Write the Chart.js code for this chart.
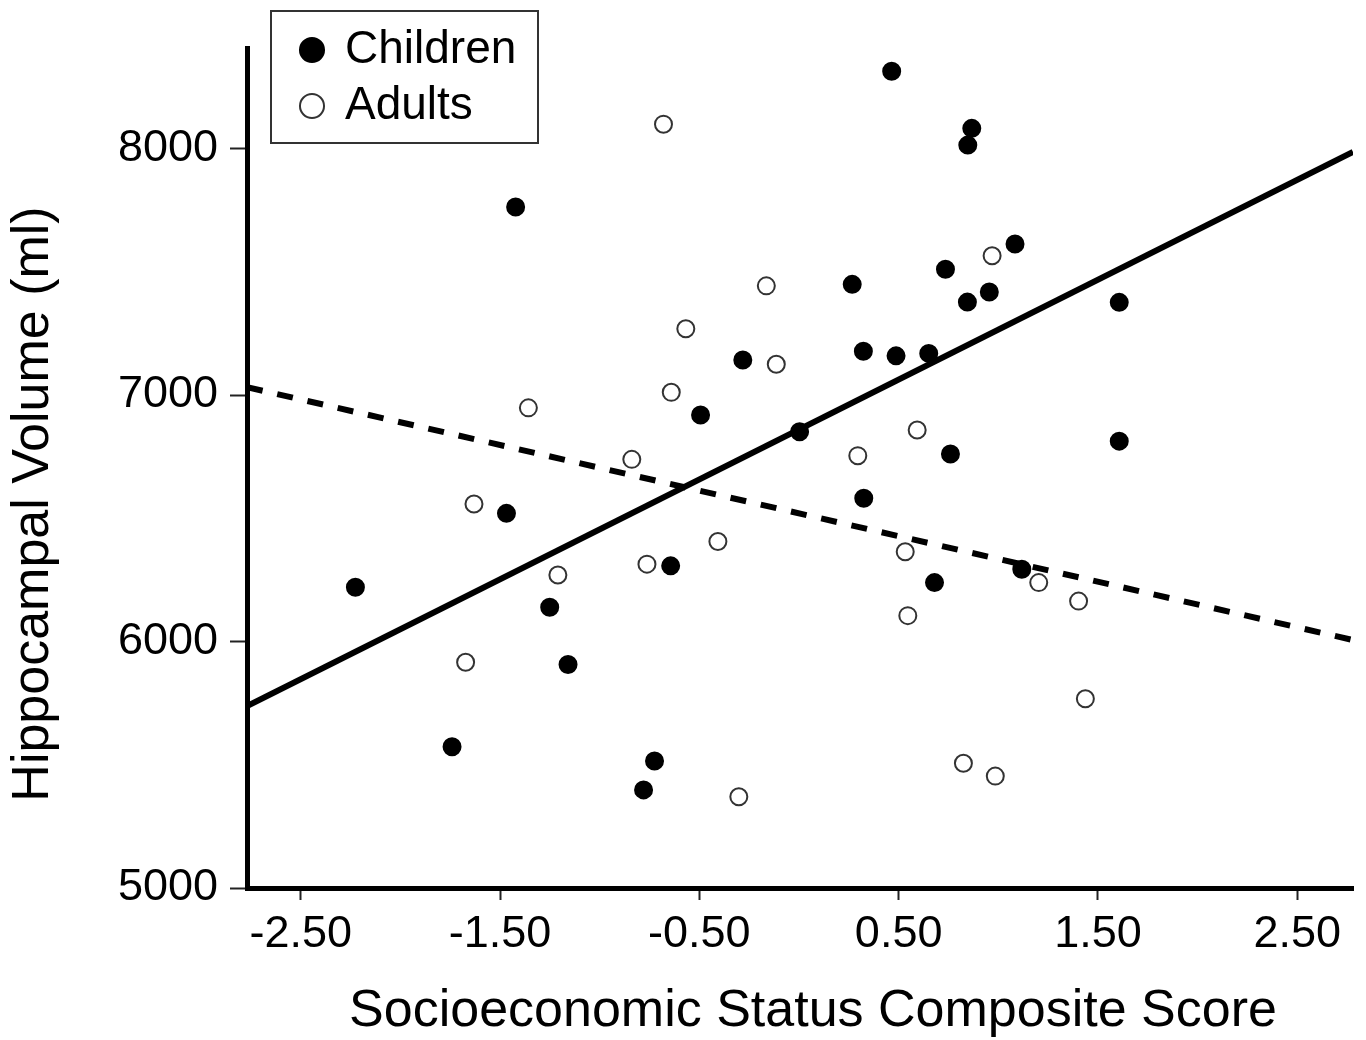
<!DOCTYPE html>
<html>
<head>
<meta charset="utf-8">
<title>Hippocampal Volume vs SES</title>
<script src="https://cdn.jsdelivr.net/npm/chart.js@4.4.1/dist/chart.umd.min.js"></script>
<style>
  html, body { margin: 0; padding: 0; background: #fff; }
  canvas { display: block; }
</style>
</head>
<body>
<canvas id="chart" width="1366" height="1040"></canvas>
<script>
// values
const childX = [0.465, 0.867, 0.847, -1.422, 1.084, 0.735, 0.267, 0.955, 0.845, 1.607,
  -0.282, 0.323, 0.487, 0.651, -0.494, 0.003, 1.607, 0.760, 0.325, -1.468,
  -2.226, -0.644, 0.680, 1.118, -1.251, -1.159, -1.741, -0.725, -0.780];
const childY = [8314, 8082, 8014, 7763, 7613, 7510, 7449, 7418, 7377, 7376,
  7142, 7178, 7159, 7169, 6919, 6851, 6813, 6761, 6581, 6520,
  6220, 6307, 6239, 6293, 6139, 5907, 5573, 5515, 5398];

const adultX = [-0.680, -0.164, -0.568, -0.114, -0.641, -1.358, 0.593, -0.839, 0.295, -1.631,
  -0.407, -1.210, -0.763, 0.533, 1.203, 1.403, 0.546, -1.673, 1.437, 0.825,
  0.985, -0.302, 0.969];
const adultY = [8099, 7443, 7269, 7125, 7011, 6948, 6858, 6739, 6754, 6558,
  6406, 6270, 6314, 6364, 6239, 6164, 6105, 5916, 5768, 5506,
  5454, 5370, 7565];

// regression lines (ends at the axis limits)
const fitX = [-2.77, 2.78];
const childFitY = [5738, 7986];
const adultFitY = [7032, 6006];

const xTicks = [-2.5, -1.5, -0.5, 0.5, 1.5, 2.5];
const yTicks = [5000, 6000, 7000, 8000];

const toPoints = (xs, ys) => xs.map((x, i) => ({ x, y: ys[i] }));

Chart.defaults.font.family = '"Liberation Sans", Arial, Helvetica, sans-serif';
Chart.defaults.color = '#000';

// legend sits inside the plot with a frame; axis titles nudged like the original
// (borders are drawn on a later layer, after the scale edges are put back)
const figureTweaks = {
  id: 'figureTweaks',
  afterLayout(chart) {
    const lg = chart.legend;
    lg.left = chart.chartArea.left + 45;
    lg.top = 17;
  },
  beforeDraw(chart) {
    chart.scales.y.top += 36; chart.scales.y.bottom += 36;
    chart.scales.x.left += 13; chart.scales.x.right += 13;
  },
  beforeDatasetsDraw(chart) {
    chart.scales.y.top -= 36; chart.scales.y.bottom -= 36;
    chart.scales.x.left -= 13; chart.scales.x.right -= 13;
  },
  afterDraw(chart) {
    const lg = chart.legend;
    const ctx = chart.ctx;
    ctx.save();
    ctx.strokeStyle = '#333';
    ctx.lineWidth = 2;
    ctx.strokeRect(lg.left - 21, lg.top - 6, 267, 132);
    ctx.restore();
  }
};

new Chart(document.getElementById('chart'), {
  type: 'scatter',
  data: {
    datasets: [
      {
        label: 'Children',
        data: toPoints(childX, childY),
        pointStyle: 'circle',
        pointRadius: 8.5,
        pointBorderWidth: 2,
        backgroundColor: '#000',
        borderColor: '#000'
      },
      {
        label: 'Adults',
        data: toPoints(adultX, adultY),
        pointStyle: 'circle',
        pointRadius: 8.5,
        pointBorderWidth: 2,
        backgroundColor: '#fff',
        borderColor: '#333'
      },
      {
        label: 'Children fit',
        data: toPoints(fitX, childFitY),
        showLine: true,
        pointRadius: 0,
        borderColor: '#000',
        borderWidth: 6
      },
      {
        label: 'Adults fit',
        data: toPoints(fitX, adultFitY),
        showLine: true,
        pointRadius: 0,
        borderColor: '#000',
        borderWidth: 6,
        borderDash: [16, 15]
      }
    ]
  },
  options: {
    responsive: false,
    devicePixelRatio: 1,
    animation: false,
    events: [],
    layout: { padding: { top: 48, right: 13, left: 0, bottom: 0 } },
    plugins: {
      tooltip: { enabled: false },
      legend: {
        position: 'chartArea',
        align: 'start',
        labels: {
          usePointStyle: true,
          boxWidth: 20,
          boxHeight: 17,
          padding: 10,
          color: '#000',
          font: { size: 46 },
          filter: item => item.datasetIndex < 2
        }
      }
    },
    scales: {
      x: {
        type: 'linear',
        min: -2.77,
        max: 2.78,
        afterFit: s => { s.height = 152; },
        afterBuildTicks: s => { s.ticks = xTicks.map(v => ({ value: v })); },
        border: { display: true, width: 5, color: '#000', z: 1 },
        grid: { drawOnChartArea: false, tickLength: 12, tickWidth: 2, tickColor: '#222' },
        ticks: {
          padding: 8,
          font: { size: 45 },
          color: '#000',
          maxRotation: 0,
          callback: v => v.toFixed(2)
        },
        title: {
          display: true,
          text: 'Socioeconomic Status Composite Score',
          font: { size: 52, lineHeight: 1 },
          padding: { top: 0, bottom: 2 },
          color: '#000'
        }
      },
      y: {
        type: 'linear',
        min: 5000,
        max: 8408,
        afterFit: s => { s.width = 247; },
        afterBuildTicks: s => { s.ticks = yTicks.map(v => ({ value: v })); },
        border: { display: true, width: 5, color: '#000', z: 1 },
        grid: { drawOnChartArea: false, tickLength: 17, tickWidth: 2, tickColor: '#222' },
        ticks: {
          padding: 12,
          font: { size: 45 },
          color: '#000',
          callback: v => String(v)
        },
        title: {
          display: true,
          text: 'Hippocampal Volume (ml)',
          font: { size: 52, lineHeight: 1 },
          padding: { top: 8, bottom: 0 },
          color: '#000'
        }
      }
    }
  },
  plugins: [figureTweaks]
});
</script>
</body>
</html>
